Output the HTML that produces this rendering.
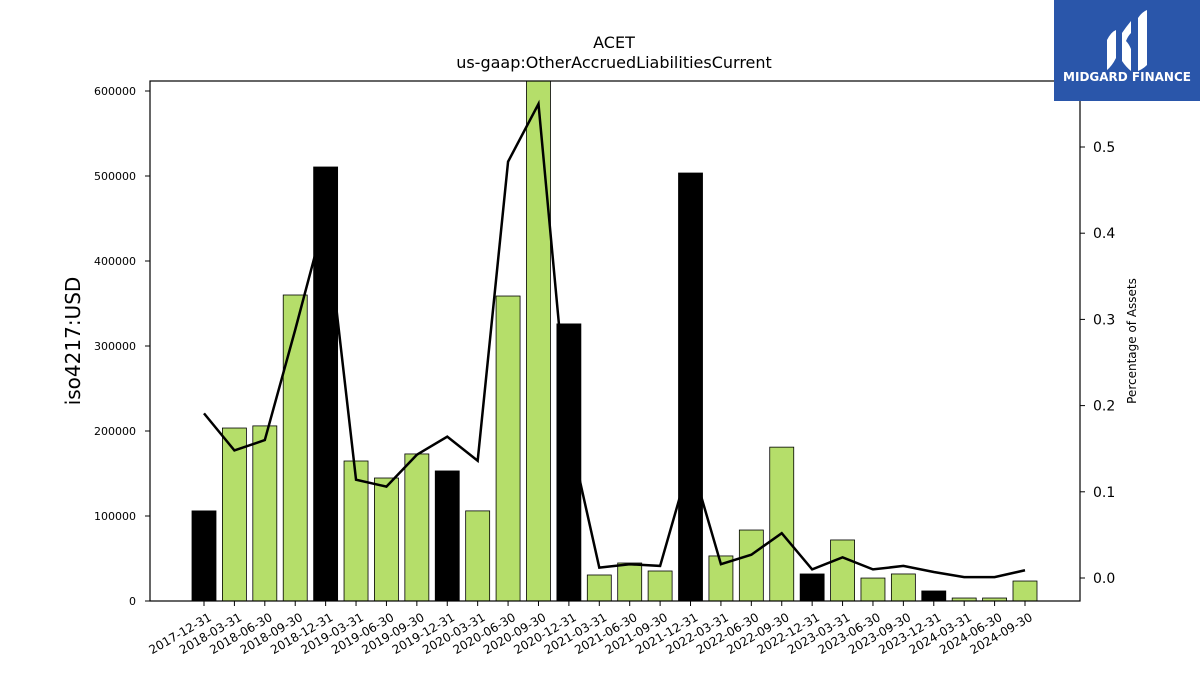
<!DOCTYPE html>
<html><head><meta charset="utf-8"><style>
body{margin:0;background:#fff;font-family:"Liberation Sans","DejaVu Sans",sans-serif;}
svg text{font-family:"DejaVu Sans","Liberation Sans",sans-serif;}
</style></head><body>
<svg id="chart" width="1200" height="675" xmlns="http://www.w3.org/2000/svg">
<text x="614" y="48" text-anchor="middle" font-size="16">ACET</text>
<text x="614" y="68" text-anchor="middle" font-size="16">us-gaap:OtherAccruedLiabilitiesCurrent</text>
<defs><clipPath id="pc"><rect x="150" y="81" width="930" height="520"/></clipPath></defs>
<g id="bars" clip-path="url(#pc)"></g>
<g id="line"></g>
<rect x="150" y="81" width="930" height="520" fill="none" stroke="#000" stroke-width="1.2"/>
<g id="yl"></g><g id="yr"></g><g id="xa"></g>
<text transform="translate(80,341) rotate(-90)" text-anchor="middle" font-size="20">iso4217:USD</text>
<text transform="translate(1136,341) rotate(-90)" text-anchor="middle" font-size="12">Percentage of Assets</text>
<g>
<rect x="1054" y="0" width="146" height="101" fill="#2a56aa"/>
<path d="M1107 40 q4 -8 9 -10 v28 q-4 8 -9 12 z M1122 33 q4 -6 9 -12 v12 q-3 3 -5 8 q3 3 5 8 v22 q-5 -4 -9 -10 z M1138 18 q4 -6 9 -8 v55 q-4 4 -9 6 z" fill="#fff"/>
<text x="1127" y="81" text-anchor="middle" font-size="12" font-weight="bold" fill="#fff" font-family="Liberation Sans">MIDGARD FINANCE</text>
</g>
</svg>
<script>
const categories=["2017-12-31","2018-03-31","2018-06-30","2018-09-30","2018-12-31","2019-03-31","2019-06-30","2019-09-30","2019-12-31","2020-03-31","2020-06-30","2020-09-30","2020-12-31","2021-03-31","2021-06-30","2021-09-30","2021-12-31","2022-03-31","2022-06-30","2022-09-30","2022-12-31","2023-03-31","2023-06-30","2023-09-30","2023-12-31","2024-03-31","2024-06-30","2024-09-30"];
const values=[106000,203500,206000,360000,510600,164700,144700,173000,153000,106000,358800,620000,326000,30600,44700,35300,503500,53000,83500,181000,31800,71800,27000,31800,11800,3500,3500,23500];
const pct=[0.191,0.148,0.160,0.288,0.421,0.114,0.106,0.143,0.164,0.136,0.483,0.550,0.170,0.012,0.016,0.014,0.137,0.016,0.027,0.052,0.010,0.024,0.010,0.014,0.007,0.001,0.001,0.009];
const leftTicks=[0,100000,200000,300000,400000,500000,600000];
const rightTicks=[0.0,0.1,0.2,0.3,0.4,0.5];
const NS="http://www.w3.org/2000/svg";
const x=i=>204+i*(1025-204)/(categories.length-1);
const yL=v=>601-v*510/600000;
const yR=v=>578-v*862;
function mk(t,a,p){const e=document.createElementNS(NS,t);for(const k in a)e.setAttribute(k,a[k]);document.getElementById(p).appendChild(e);return e;}
categories.forEach((c,i)=>{
  const yr=c.endsWith("12-31");
  const r=mk("rect",{x:x(i)-12,y:yL(values[i]),width:24,height:601-yL(values[i]),fill:yr?"#000":"#b5de6a",stroke:"#000","stroke-width":0.8},"bars");
  
  
  const t=mk("line",{x1:x(i),x2:x(i),y1:601,y2:606,stroke:"#000"},"xa");
  
  
  const l=mk("text",{transform:`translate(${x(i)+4},612) rotate(-30)`,"text-anchor":"end","font-size":12,"dominant-baseline":"hanging"},"xa");
  
  
  l.textContent=c;
});
const pl=mk("polyline",{points:pct.map((v,i)=>x(i)+","+yR(v)).join(" "),fill:"none",stroke:"#000","stroke-width":2.5},"line");


leftTicks.forEach(v=>{
  const t=mk("line",{x1:145,x2:150,y1:yL(v),y2:yL(v),stroke:"#000"},"yl");
  
  
  const l=mk("text",{x:136,y:yL(v)+4,"text-anchor":"end","font-size":11},"yl");
  
  
  l.textContent=v;
});
rightTicks.forEach(v=>{
  const t=mk("line",{x1:1080,x2:1085,y1:yR(v),y2:yR(v),stroke:"#000"},"yr");
  
  
  const l=mk("text",{x:1093,y:yR(v)+5,"font-size":14},"yr");
  
  
  l.textContent=v.toFixed(1);
});
</script>
</body></html>
